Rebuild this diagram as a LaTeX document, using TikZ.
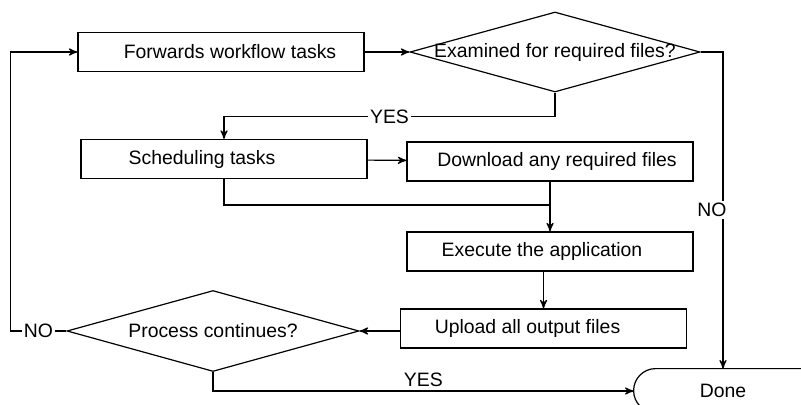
\documentclass[tikz,border=0pt]{standalone}
\usepackage{fontspec}
\setmainfont{Liberation Sans}
\usetikzlibrary{arrows}
\usetikzlibrary{shapes.geometric}
\tikzset{task/.style = {draw, semithick, rectangle, minimum width = 143pt, minimum height = 19.5pt, inner sep = 0}}
\tikzset{check/.style = {draw, semithick, diamond, minimum width = 145pt, minimum height = 40pt, inner sep = 0}}
\tikzset{flow/.style = {semithick, ->, >=stealth'}}
\tikzset{tag/.style = {fill = white, inner sep = 1pt}}

\begin{document}
\begin{tikzpicture}[x = 0.5pt, y = -0.5pt, font = \fontsize{9.7}{11.6}\selectfont]
    \path [use as bounding box, clip] (0, 0) rectangle (801, 405);

    \node [task] (fwd) at (221, 52) {\hspace{9pt}Forwards workflow tasks};
    \node [check] (exam) at (555, 52) {\makebox[0pt]{Examined for required files?}};
    \node [task] (sched) at (224, 159) {Scheduling tasks\hspace{22pt}\mbox{}};
    \node [task] (down) at (550, 161.5) {\hspace{7pt}Download any required files};
    \node [task] (exec) at (550, 251.5) {Execute the application\hspace{8pt}\mbox{}};
    \node [task] (upload) at (543.5, 328.5) {Upload all output files\hspace{16pt}\mbox{}};
    \node [check, minimum width = 146pt, minimum height = 40.5pt] (cont) at (213, 331) {\makebox[0pt]{Process continues?}};
    \node [minimum width = 89pt, minimum height = 22pt] (done) at (723, 391) {Done};
    \coordinate (join) at (550, 205);

    \draw [semithick] (done.north east) -- ([xshift = 11pt] done.north west)
      arc [start angle = 90, end angle = 270, radius = 11pt];

    \draw [flow] (fwd) -- (exam);
    \draw [flow] (exam.east) -| node [tag, pos = 0.75, xshift = -5.5pt] {NO} (done.north);
    \draw [flow] (exam.south) -- ++(0, 24) -| node [tag, pos = 0.25] {YES} (sched.north);
    \draw [flow] (sched) -- (down);
    \draw [semithick] (sched.south) |- (join);
    \draw [flow] (down.south) -- (exec.north);
    \draw [flow] (upload.north |- exec.south) -- (upload.north);
    \draw [flow] (upload.west |- cont.east) -- (cont.east);
    \draw [flow] (cont.west) -- node [tag] {NO} ++(-56, 0) |- (fwd.west);
    \draw [flow] (cont.south) |- node [pos = 0.75, above, inner sep = 2pt] {YES} (done.west);
  \end{tikzpicture}
\end{document}
